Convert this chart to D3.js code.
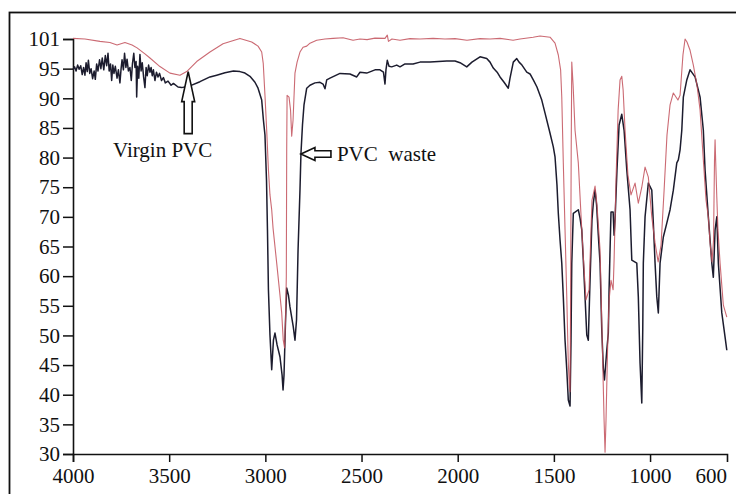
<!DOCTYPE html>
<html>
<head>
<meta charset="utf-8">
<script src="https://cdn.jsdelivr.net/npm/d3@7"></script>
<style>
  html, body { margin: 0; padding: 0; background: #fff; }
  svg { display: block; }
  text { font-family: "Liberation Serif", "Times New Roman", serif; fill: #111; }
</style>
</head>
<body>
<svg id="chart" width="736" height="494"></svg>
<script>
// ---------- data (wavenumber cm-1, transmittance %) ----------
const xTickValues = [4000, 3500, 3000, 2500, 2000, 1500, 1000];
const xEndLabel = "600";
const yTickValues = [30, 35, 40, 45, 50, 55, 60, 65, 70, 75, 80, 85, 90, 95, 100];
const yTickLabels = ["30","35","40","45","50","55","60","65","70","75","80","85","90","95","101"];

const seriesNames = ["Virgin PVC", "PVC  waste"];

const virginWavenumber = [4000,3938,3860,3808,3771,3730,3693,3667,3626,3600,3548,3496,3444,3409,3357,3288,3220,3132,3071,3038,3019,3011,3002,2993,2984,2976,2967,2960,2941,2924,2915,2907,2900,2895,2891,2889,2887,2877,2869,2863,2856,2846,2835,2820,2804,2785,2768,2733,2690,2648,2596,2544,2508,2471,2430,2378,2366,2360,2342,2300,2248,2196,2128,2066,2014,1952,1884,1832,1780,1712,1676,1608,1572,1520,1494,1477,1465,1459,1451,1442,1433,1425,1419,1416,1413,1410,1407,1400,1390,1373,1355,1343,1333,1317,1302,1286,1276,1260,1250,1239,1234,1229,1221,1213,1203,1192,1187,1177,1166,1156,1147,1140,1130,1115,1099,1078,1061,1043,1026,1009,991,974,958,943,927,912,896,879,855,844,829,818,808,792,775,756,740,723,709,697,688,678,670,665,662,659,653,647,636,619,601];
const virginValue = [100.1,100.0,99.6,99.4,99.0,99.4,99.0,98.5,97.5,96.8,95.35,94.25,93.9,94.5,96.2,97.8,99.2,100.1,99.5,98.8,97.8,95.9,90.5,84.6,77.9,73.7,71.2,68.1,62.2,56.8,53.8,49.2,47.9,52.6,60.0,81.3,90.5,90.2,88.0,83.6,86.3,94.25,96.1,97.8,98.6,98.8,99.3,99.8,100.0,100.1,100.2,99.8,100.0,99.9,100.15,100.1,100.66,99.6,100.0,99.8,100.07,100.0,100.1,100.0,100.07,99.8,100.07,100.0,100.1,99.8,100.0,100.3,100.5,100.3,99.3,97.3,94.8,90.2,79.1,67.8,56.5,45.3,41.3,40.5,56.0,81.3,96.1,92.2,84.6,79.1,67.8,61.1,56.0,57.7,72.8,75.2,72.0,64.4,50.9,35.7,30.3,35.7,47.5,56.0,59.3,57.7,62.7,76.2,88.0,93.1,93.7,91.4,84.6,77.05,73.7,75.7,72.3,75.0,78.4,76.7,70.0,65.6,62.4,65.2,74.5,83.8,88.9,90.9,89.7,90.5,97.3,100.0,99.5,98.1,95.6,92.2,88.0,79.6,72.8,70.0,65.6,62.4,66.1,79.6,83.0,79.6,73.3,67.8,62.2,55.1,53.1];

const wasteWavenumber = [4000,3992,3984,3976,3968,3960,3952,3945,3938,3932,3926,3920,3913,3906,3898,3890,3884,3877,3870,3862,3855,3848,3840,3832,3825,3818,3812,3805,3799,3793,3787,3780,3771,3764,3756,3750,3745,3738,3732,3725,3719,3712,3704,3697,3691,3684,3678,3672,3669,3664,3658,3652,3646,3640,3633,3626,3620,3614,3607,3600,3594,3588,3582,3574,3566,3558,3550,3540,3530,3520,3506,3490,3478,3454,3435,3392,3340,3288,3253,3210,3166,3132,3106,3080,3054,3038,3019,3010,3002,2994,2989,2984,2976,2967,2958,2950,2939,2924,2913,2908,2903,2895,2889,2880,2872,2855,2846,2838,2830,2820,2815,2807,2799,2785,2768,2742,2716,2700,2690,2681,2664,2612,2560,2525,2508,2473,2430,2404,2386,2378,2373,2366,2357,2343,2317,2300,2274,2232,2196,2144,2057,2014,1988,1953,1926,1884,1849,1832,1815,1795,1780,1759,1737,1728,1711,1693,1681,1666,1641,1624,1607,1588,1563,1546,1520,1503,1494,1484,1477,1468,1459,1451,1442,1433,1425,1416,1411,1407,1399,1390,1373,1364,1355,1347,1338,1329,1321,1312,1302,1295,1286,1278,1269,1260,1251,1243,1237,1231,1225,1217,1213,1208,1203,1192,1187,1182,1172,1161,1147,1135,1121,1104,1095,1069,1061,1052,1043,1038,1035,1026,1009,991,983,974,965,957,948,931,913,896,879,861,853,844,835,827,809,792,766,740,723,714,697,679,671,662,653,645,627,610,601];
const wasteValue = [94.8,95.3,94.6,95.6,94.9,95.5,94.0,95.2,93.9,96.0,94.5,96.4,94.2,95.0,93.3,94.6,93.2,95.8,94.6,96.5,95.0,96.8,94.8,97.2,95.5,97.6,94.6,95.8,93.0,95.6,94.2,95.4,93.4,94.8,92.6,95.0,96.5,94.8,97.6,95.2,96.6,94.6,95.2,93.0,95.8,97.6,95.2,96.2,90.2,95.4,93.4,97.4,94.6,96.0,93.6,91.8,95.2,93.8,95.6,94.4,95.2,93.8,94.8,93.0,94.4,93.6,94.2,93.0,93.5,92.6,92.9,92.2,92.5,91.9,91.8,92.1,92.8,93.6,93.9,94.3,94.6,94.5,94.25,93.7,92.7,91.7,89.7,86.3,83.8,76.2,67.8,57.7,50.07,44.2,49.2,50.4,48.4,46.4,43.3,40.8,43.3,52.6,58.0,56.8,54.8,51.5,49.2,52.6,64.4,74.5,80.6,85.5,88.9,91.7,92.2,92.6,92.7,92.4,91.6,93.1,93.4,94.2,94.1,93.6,94.4,94.25,94.8,94.8,94.4,92.4,94.8,96.4,95.4,95.3,95.6,95.3,95.8,95.8,96.1,96.1,96.3,96.3,96.0,95.3,96.1,97.0,96.7,96.1,95.1,94.4,93.6,92.7,91.7,93.4,96.1,96.7,96.1,95.6,94.4,94.1,93.1,91.9,89.7,87.5,84.1,81.8,80.1,75.4,70.6,66.1,62.2,56.5,49.2,44.2,39.1,38.1,49.2,62.2,70.6,70.8,71.2,69.8,67.8,62.7,56.5,50.07,49.2,59.3,69.5,72.3,74.5,72.0,66.9,62.2,50.9,44.5,42.5,45.0,47.5,50.4,57.7,64.4,70.8,70.8,66.9,69.5,77.9,85.5,87.3,84.6,77.9,71.2,62.7,62.2,56.5,45.3,38.6,50.9,62.2,70.0,75.7,74.5,68.95,62.2,56.5,53.8,62.2,66.6,68.95,71.2,74.5,79.1,79.6,81.3,84.6,90.2,93.1,94.8,93.6,90.2,84.6,77.9,70.0,62.2,59.8,67.8,70.0,62.2,53.8,49.7,47.5];

// annotation anchors (wavenumber, transmittance at arrow tip)
const virginArrowAt = [3409, 94.5];
const wasteArrowAt = [2815, 80.6];

// ---------- drawing ----------
const svg = d3.select("#chart");
const plot = { left: 73, right: 727, top: 39, bottom: 454 };
const serif = '"Liberation Serif", "Times New Roman", serif';

// outer frame (extends past the image on right/bottom as in the source)
svg.append("rect")
  .attr("x", 9.5).attr("y", 12.5)
  .attr("width", 760).attr("height", 520)
  .attr("fill", "none").attr("stroke", "#111").attr("stroke-width", 1.8);

const x = d3.scaleLinear().domain([4000, 600]).range([plot.left, plot.right]);
const y = d3.scaleLinear().domain([30, 100]).range([plot.bottom, plot.top]);

const fontSize = 21;

// y axis
const yAxis = svg.append("g")
  .attr("transform", `translate(${plot.left},0)`)
  .attr("font-family", serif)
  .call(d3.axisLeft(y).tickValues(yTickValues).tickSize(10).tickPadding(3)
    .tickFormat((d, i) => yTickLabels[i]));
yAxis.attr("font-family", serif);
yAxis.select(".domain").attr("stroke", "#111").attr("stroke-width", 1.6);
yAxis.selectAll(".tick line").attr("stroke", "#111").attr("stroke-width", 1.5);
yAxis.selectAll("text").style("font-size", fontSize + "px")
  .style("font-family", serif).attr("fill", "#111");

// x axis
const xAxis = svg.append("g")
  .attr("transform", `translate(0,${plot.bottom})`)
  .call(d3.axisBottom(x).tickValues(xTickValues).tickSize(8).tickPadding(6)
    .tickFormat(d3.format("d")));
xAxis.attr("font-family", serif);
xAxis.select(".domain").attr("stroke", "#111").attr("stroke-width", 1.6);
xAxis.selectAll(".tick line").attr("stroke", "#111").attr("stroke-width", 1.5);
xAxis.selectAll("text").style("font-size", fontSize + "px")
  .style("font-family", serif).attr("fill", "#111");
// end label (no tick mark in the source)
xAxis.append("text")
  .attr("x", plot.right).attr("y", 14).attr("dy", "0.71em")
  .attr("text-anchor", "end")
  .style("font-size", fontSize + "px")
  .style("font-family", serif)
  .attr("fill", "#111")
  .text(xEndLabel);

// spectra
const line = d3.line().x(d => x(d[0])).y(d => y(d[1]));
const virgin = virginWavenumber.map((w, i) => [w, virginValue[i]]);
const waste = wasteWavenumber.map((w, i) => [w, wasteValue[i]]);

svg.append("path").datum(waste)
  .attr("d", line).attr("fill", "none")
  .attr("stroke", "#1c1c2e").attr("stroke-width", 1.5)
  .attr("stroke-linejoin", "round");
svg.append("path").datum(virgin)
  .attr("d", line).attr("fill", "none")
  .attr("stroke", "#c2505a").attr("stroke-opacity", 0.85).attr("stroke-width", 1.1)
  .attr("stroke-linejoin", "round");

// annotations: hollow arrows
const ax = x(virginArrowAt[0]) + 1.5, ay = y(virginArrowAt[1]);
const upArrow = [
  [ax, ay], [ax + 6.5, ay + 30], [ax + 4, ay + 30], [ax + 4, ay + 62],
  [ax - 4, ay + 62], [ax - 4, ay + 30], [ax - 6.5, ay + 30]
];
svg.append("polygon").attr("points", upArrow.map(p => p.join(",")).join(" "))
  .attr("fill", "#fff").attr("stroke", "#111").attr("stroke-width", 1.6)
  .attr("stroke-linejoin", "miter");
svg.append("text")
  .attr("x", 113).attr("y", ay + 85)
  .style("font-size", fontSize + "px")
  .style("font-family", serif)
  .text(seriesNames[0]);

const bx = x(wasteArrowAt[0]), by = y(wasteArrowAt[1]);
const leftArrow = [
  [bx, by], [bx + 14, by - 6.5], [bx + 14, by - 3.3], [bx + 30, by - 3.3],
  [bx + 30, by + 3.3], [bx + 14, by + 3.3], [bx + 14, by + 6.5]
];
svg.append("polygon").attr("points", leftArrow.map(p => p.join(",")).join(" "))
  .attr("fill", "#fff").attr("stroke", "#111").attr("stroke-width", 1.6);
svg.append("text")
  .attr("x", bx + 36).attr("y", by + 7)
  .style("font-size", fontSize + "px")
  .style("font-family", serif)
  .style("white-space", "pre")
  .text(seriesNames[1]);
</script>
</body>
</html>
